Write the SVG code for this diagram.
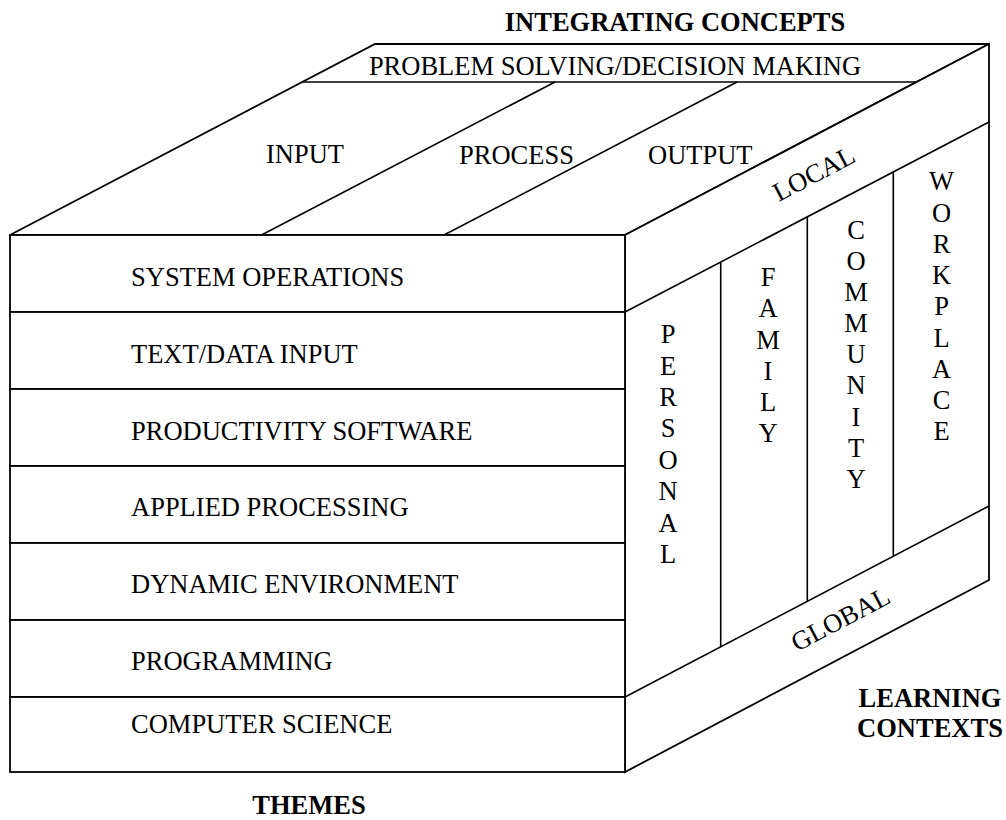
<svg xmlns="http://www.w3.org/2000/svg" width="1006" height="820" viewBox="0 0 1006 820">
<style>
  .ln{fill:none;stroke:#000;stroke-width:1.6;stroke-linejoin:miter}
  .face{fill:#fff;stroke:#000;stroke-width:1.8}
  .t{font-family:"Liberation Serif","Times New Roman",serif;font-size:26.5px;fill:#000}
  .b{font-weight:bold}
  .m{text-anchor:middle}
</style>
<rect x="0" y="0" width="1006" height="820" fill="#fff"/>

<!-- Titles -->
<g id="title-integrating">
  <text class="t b m" x="675" y="31">INTEGRATING CONCEPTS</text>
</g>
<g id="title-themes">
  <text class="t b m" x="309" y="814">THEMES</text>
</g>
<g id="title-learning">
  <text class="t b m" x="930" y="707">LEARNING</text>
  <text class="t b m" x="930" y="737">CONTEXTS</text>
</g>

<!-- Top face: integrating concepts -->
<g id="top-face">
  <polygon class="face" points="10,235 375,44 989,44 625,235"/>
</g>
<g id="concept-problem">
  <line class="ln" x1="303" y1="82" x2="917" y2="82"/>
  <text class="t m" x="615" y="75">PROBLEM SOLVING/DECISION MAKING</text>
</g>
<g id="concept-input">
  <text class="t" x="266" y="163">INPUT</text>
</g>
<g id="concept-process">
  <text class="t" x="459" y="164">PROCESS</text>
</g>
<g id="concept-output">
  <text class="t" x="648" y="164">OUTPUT</text>
</g>

<!-- Right face: learning contexts -->
<g id="right-face">
  <polygon class="face" points="625,235 989,44 989,580 625,772"/>
</g>
<g id="context-local">
  <text class="t m" x="818" y="181.5" transform="rotate(-27.6 818 181.5)">LOCAL</text>
</g>
<g id="context-global">
  <text class="t m" x="844.5" y="627" transform="rotate(-27.6 844.5 627)">GLOBAL</text>
</g>
<g id="context-personal" class="t m">
  <text x="668" y="343">P</text>
  <text x="668" y="374.5">E</text>
  <text x="668" y="406">R</text>
  <text x="668" y="437">S</text>
  <text x="668" y="469">O</text>
  <text x="668" y="500">N</text>
  <text x="668" y="531.5">A</text>
  <text x="668" y="563">L</text>
</g>
<g id="context-family" class="t m">
  <text x="768" y="286">F</text>
  <text x="768" y="317">A</text>
  <text x="768" y="348.5">M</text>
  <text x="768" y="380">I</text>
  <text x="768" y="411">L</text>
  <text x="768" y="442">Y</text>
</g>
<g id="context-community" class="t m">
  <text x="856" y="238.5">C</text>
  <text x="856" y="270">O</text>
  <text x="856" y="301">M</text>
  <text x="856" y="332">M</text>
  <text x="856" y="363">U</text>
  <text x="856" y="394">N</text>
  <text x="856" y="425.5">I</text>
  <text x="856" y="457">T</text>
  <text x="856" y="488">Y</text>
</g>
<g id="context-workplace" class="t m">
  <text x="941.5" y="190">W</text>
  <text x="941.5" y="221.5">O</text>
  <text x="941.5" y="253">R</text>
  <text x="941.5" y="284">K</text>
  <text x="941.5" y="315">P</text>
  <text x="941.5" y="346.5">L</text>
  <text x="941.5" y="378">A</text>
  <text x="941.5" y="409">C</text>
  <text x="941.5" y="440">E</text>
</g>

<!-- Front face: themes -->
<g id="theme-system-operations">
  <rect class="face" x="10" y="235" width="615" height="77"/>
  <text class="t" x="131" y="286">SYSTEM OPERATIONS</text>
</g>
<g id="theme-text-data-input">
  <rect class="face" x="10" y="312" width="615" height="77"/>
  <text class="t" x="131" y="363">TEXT/DATA INPUT</text>
</g>
<g id="theme-productivity-software">
  <rect class="face" x="10" y="389" width="615" height="77"/>
  <text class="t" x="131" y="440">PRODUCTIVITY SOFTWARE</text>
</g>
<g id="theme-applied-processing">
  <rect class="face" x="10" y="466" width="615" height="77"/>
  <text class="t" x="131" y="516">APPLIED PROCESSING</text>
</g>
<g id="theme-dynamic-environment">
  <rect class="face" x="10" y="543" width="615" height="77"/>
  <text class="t" x="131" y="593">DYNAMIC ENVIRONMENT</text>
</g>
<g id="theme-programming">
  <rect class="face" x="10" y="620" width="615" height="77"/>
  <text class="t" x="131" y="670">PROGRAMMING</text>
</g>
<g id="theme-computer-science">
  <rect class="face" x="10" y="697" width="615" height="75"/>
  <text class="t" x="131" y="733">COMPUTER SCIENCE</text>
</g>

<!-- Dividing lines -->
<g id="connectors">
  <line class="ln" x1="261.5" y1="235" x2="555" y2="82"/>
  <line class="ln" x1="444" y1="235" x2="737" y2="82"/>
  <line class="ln" x1="625" y1="312" x2="989" y2="122"/>
  <line class="ln" x1="625" y1="697" x2="989" y2="506"/>
  <line class="ln" x1="720.7" y1="262" x2="720.7" y2="646.8"/>
  <line class="ln" x1="807.3" y1="216.8" x2="807.3" y2="601.3"/>
  <line class="ln" x1="893.3" y1="172" x2="893.3" y2="556.2"/>
</g>
</svg>
